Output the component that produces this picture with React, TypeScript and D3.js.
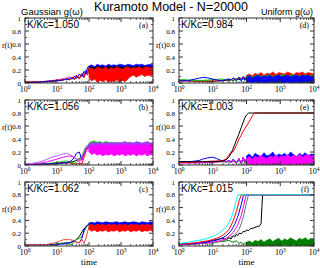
import React from 'react';
import * as d3 from 'd3';

const W = 320;
const H = 268;

// time grids
const tEarly = [1, 1.5, 2, 3, 4, 5, 7, 10, 13, 16, 20, 25, 30, 35, 40, 50, 60, 70, 80, 90, 100];
const tBand = [100, 120, 150, 180, 220, 270, 330, 400, 500, 600, 750, 900, 1100, 1350, 1650, 2000, 2500, 3000, 3700, 4500, 5500, 6700, 8200, 10000];
const tRise = [1, 2, 5, 10, 15, 20, 25, 30, 35, 40, 50, 60, 70, 80, 90, 100, 115, 130, 150, 170, 200, 10000];
const tF = [1, 1.5, 2, 3, 4, 5, 7, 10, 13, 16, 20, 25, 30, 35, 40, 45, 50, 55, 60, 70, 80, 90, 100, 115, 130, 160, 200, 240, 270, 285, 300, 10000];

const yTicks = [0, 0.2, 0.4, 0.6, 0.8, 1];
const yTickLabels = ['0', '0.2', '0.4', '0.6', '0.8', '1'];
const xDecades = [1, 10, 100, 1000, 10000];
const xExponents = ['0', '1', '2', '3', '4'];

// (a) Gaussian, K/Kc = 1.050
const aBlack = [0.01, 0.01, 0.012, 0.015, 0.02, 0.02, 0.03, 0.035, 0.04, 0.05, 0.06, 0.05, 0.08, 0.06, 0.1, 0.08, 0.13, 0.1, 0.18, 0.16, 0.22];
const aRed = [0.02, 0.02, 0.02, 0.02, 0.025, 0.03, 0.03, 0.04, 0.05, 0.04, 0.07, 0.05, 0.09, 0.05, 0.12, 0.06, 0.15, 0.08, 0.2, 0.12, 0.22];
const aBlue = [0.01, 0.01, 0.01, 0.015, 0.02, 0.025, 0.03, 0.04, 0.035, 0.06, 0.05, 0.08, 0.06, 0.1, 0.07, 0.14, 0.1, 0.18, 0.14, 0.24, 0.26];
const aPink = [0.01, 0.01, 0.012, 0.015, 0.02, 0.03, 0.04, 0.05, 0.06, 0.07, 0.08, 0.1, 0.07, 0.11, 0.08, 0.12, 0.09, 0.15, 0.12, 0.2, 0.24];
const aBlueHi = [0.26, 0.28, 0.25, 0.29, 0.27, 0.28, 0.26, 0.29, 0.27, 0.28, 0.27, 0.29, 0.28, 0.27, 0.29, 0.28, 0.27, 0.29, 0.28, 0.29, 0.27, 0.28, 0.29, 0.28];
const aBlueLo = [0.2, 0.18, 0.21, 0.19, 0.22, 0.2, 0.21, 0.2, 0.22, 0.21, 0.2, 0.22, 0.21, 0.22, 0.2, 0.22, 0.21, 0.22, 0.2, 0.21, 0.22, 0.21, 0.2, 0.22];
const aBlackHi = [0.24, 0.25, 0.23, 0.26, 0.24, 0.25, 0.24, 0.26, 0.25, 0.24, 0.26, 0.25, 0.24, 0.25, 0.26, 0.24, 0.25, 0.26, 0.24, 0.25, 0.26, 0.25, 0.24, 0.25];
const aBlackLo = [0.15, 0.17, 0.14, 0.16, 0.18, 0.15, 0.17, 0.16, 0.18, 0.17, 0.16, 0.18, 0.17, 0.16, 0.18, 0.17, 0.18, 0.16, 0.17, 0.18, 0.17, 0.16, 0.18, 0.17];
const aRedHi = [0.22, 0.24, 0.2, 0.25, 0.23, 0.22, 0.25, 0.21, 0.24, 0.22, 0.25, 0.23, 0.21, 0.24, 0.25, 0.22, 0.24, 0.23, 0.25, 0.22, 0.24, 0.25, 0.23, 0.24];
const aRedLo = [0.08, 0.03, 0.06, 0.01, 0.04, 0.02, 0.05, 0.01, 0.03, 0.02, 0.05, 0.01, 0.04, 0.02, 0.06, 0.1, 0.12, 0.09, 0.11, 0.13, 0.1, 0.12, 0.11, 0.12];

// (b) Gaussian, K/Kc = 1.056
const bViolet = [0.01, 0.02, 0.03, 0.05, 0.07, 0.09, 0.12, 0.14, 0.16, 0.17, 0.18, 0.16, 0.14, 0.12, 0.1, 0.06, 0.12, 0.2, 0.26, 0.3, 0.32];
const bMagenta = [0.01, 0.015, 0.02, 0.03, 0.04, 0.05, 0.07, 0.09, 0.11, 0.12, 0.13, 0.14, 0.13, 0.11, 0.09, 0.05, 0.08, 0.15, 0.22, 0.28, 0.3];
const bGreen = [0.01, 0.01, 0.01, 0.015, 0.02, 0.02, 0.03, 0.04, 0.05, 0.06, 0.06, 0.05, 0.04, 0.03, 0.04, 0.08, 0.14, 0.22, 0.28, 0.3, 0.32];
const bRed = [0.01, 0.01, 0.01, 0.01, 0.015, 0.02, 0.02, 0.03, 0.035, 0.04, 0.04, 0.03, 0.02, 0.02, 0.01, 0.03, 0.01, 0.12, 0.2, 0.26, 0.28];
const bBlue = [0.01, 0.01, 0.01, 0.01, 0.015, 0.02, 0.02, 0.025, 0.03, 0.035, 0.04, 0.05, 0.08, 0.12, 0.18, 0.2, 0.08, 0.18, 0.25, 0.28, 0.3];
const bBlack = [0.01, 0.01, 0.01, 0.01, 0.01, 0.015, 0.02, 0.02, 0.025, 0.03, 0.03, 0.04, 0.05, 0.06, 0.07, 0.1, 0.12, 0.18, 0.22, 0.26, 0.28];
const bGreenHi = [0.34, 0.36, 0.37, 0.35, 0.36, 0.34, 0.36, 0.35, 0.34, 0.35, 0.33, 0.35, 0.34, 0.33, 0.35, 0.34, 0.33, 0.35, 0.34, 0.33, 0.34, 0.35, 0.33, 0.34];
const bGreenLo = [0.26, 0.28, 0.27, 0.29, 0.28, 0.27, 0.29, 0.28, 0.27, 0.28, 0.27, 0.28, 0.27, 0.28, 0.27, 0.28, 0.27, 0.28, 0.27, 0.28, 0.27, 0.28, 0.27, 0.28];
const bBlueHi = [0.31, 0.3, 0.32, 0.3, 0.31, 0.29, 0.31, 0.3, 0.32, 0.3, 0.31, 0.3, 0.31, 0.32, 0.3, 0.31, 0.3, 0.32, 0.3, 0.31, 0.3, 0.31, 0.32, 0.3];
const bBlueLo = [0.2, 0.22, 0.21, 0.23, 0.22, 0.21, 0.23, 0.22, 0.21, 0.22, 0.23, 0.22, 0.21, 0.22, 0.23, 0.22, 0.21, 0.22, 0.23, 0.21, 0.22, 0.23, 0.22, 0.21];
const bVioletHi = [0.33, 0.34, 0.35, 0.34, 0.35, 0.33, 0.35, 0.34, 0.35, 0.34, 0.35, 0.34, 0.35, 0.36, 0.34, 0.35, 0.34, 0.36, 0.35, 0.34, 0.35, 0.36, 0.34, 0.35];
const bVioletLo = [0.24, 0.25, 0.24, 0.26, 0.25, 0.24, 0.26, 0.25, 0.24, 0.25, 0.26, 0.24, 0.25, 0.26, 0.24, 0.25, 0.26, 0.25, 0.24, 0.26, 0.25, 0.24, 0.26, 0.25];
const bMagentaHi = [0.3, 0.31, 0.29, 0.32, 0.3, 0.31, 0.32, 0.3, 0.31, 0.3, 0.32, 0.31, 0.3, 0.32, 0.31, 0.3, 0.32, 0.31, 0.3, 0.32, 0.31, 0.3, 0.32, 0.31];
const bMagentaLo = [0.2, 0.16, 0.18, 0.15, 0.17, 0.14, 0.16, 0.15, 0.17, 0.14, 0.16, 0.15, 0.17, 0.14, 0.16, 0.15, 0.17, 0.14, 0.16, 0.15, 0.17, 0.14, 0.16, 0.15];

// (c) Gaussian, K/Kc = 1.062
const cBlack = [0.02, 0.02, 0.02, 0.02, 0.02, 0.02, 0.02, 0.03, 0.04, 0.04, 0.05, 0.05, 0.06, 0.08, 0.1, 0.15, 0.22, 0.27, 0.3, 0.32, 0.33];
const cRed = [0.02, 0.02, 0.02, 0.02, 0.02, 0.025, 0.04, 0.06, 0.08, 0.1, 0.1, 0.1, 0.09, 0.08, 0.06, 0.05, 0.1, 0.04, 0.12, 0.22, 0.3];
const cGreen = [0.02, 0.02, 0.02, 0.02, 0.02, 0.02, 0.02, 0.03, 0.04, 0.05, 0.04, 0.02, 0.03, 0.06, 0.1, 0.12, 0.15, 0.22, 0.28, 0.32, 0.34];
const cBlue = [0.02, 0.02, 0.02, 0.02, 0.02, 0.02, 0.02, 0.02, 0.03, 0.03, 0.04, 0.05, 0.07, 0.08, 0.06, 0.05, 0.12, 0.25, 0.3, 0.33, 0.35];
const cBlackHi = [0.35, 0.36, 0.35, 0.36, 0.35, 0.36, 0.35, 0.36, 0.35, 0.36, 0.35, 0.36, 0.35, 0.36, 0.35, 0.36, 0.35, 0.36, 0.35, 0.36, 0.35, 0.36, 0.35, 0.36];
const cBlackLo = [0.33, 0.34, 0.33, 0.34, 0.33, 0.34, 0.33, 0.34, 0.33, 0.34, 0.33, 0.34, 0.33, 0.34, 0.33, 0.34, 0.33, 0.34, 0.33, 0.34, 0.33, 0.34, 0.33, 0.34];
const cGreenHi = [0.35, 0.36, 0.35, 0.37, 0.35, 0.36, 0.35, 0.36, 0.37, 0.35, 0.36, 0.35, 0.36, 0.35, 0.37, 0.36, 0.35, 0.36, 0.35, 0.36, 0.37, 0.35, 0.36, 0.35];
const cGreenLo = [0.32, 0.33, 0.32, 0.33, 0.32, 0.33, 0.32, 0.33, 0.32, 0.33, 0.32, 0.33, 0.32, 0.33, 0.32, 0.33, 0.32, 0.33, 0.32, 0.33, 0.32, 0.33, 0.32, 0.33];
const cBlueHi = [0.36, 0.37, 0.36, 0.38, 0.37, 0.36, 0.38, 0.37, 0.36, 0.37, 0.38, 0.36, 0.37, 0.38, 0.36, 0.37, 0.38, 0.37, 0.36, 0.38, 0.37, 0.36, 0.38, 0.37];
const cBlueLo = [0.33, 0.34, 0.33, 0.34, 0.33, 0.34, 0.33, 0.34, 0.33, 0.34, 0.33, 0.34, 0.33, 0.34, 0.33, 0.34, 0.33, 0.34, 0.33, 0.34, 0.33, 0.34, 0.33, 0.34];
const cRedHi = [0.33, 0.34, 0.32, 0.34, 0.33, 0.34, 0.32, 0.34, 0.33, 0.34, 0.32, 0.34, 0.33, 0.34, 0.32, 0.34, 0.33, 0.34, 0.32, 0.34, 0.33, 0.34, 0.32, 0.34];
const cRedLo = [0.26, 0.23, 0.25, 0.22, 0.24, 0.23, 0.25, 0.22, 0.24, 0.23, 0.25, 0.22, 0.24, 0.23, 0.25, 0.22, 0.24, 0.23, 0.25, 0.22, 0.24, 0.23, 0.25, 0.22];

// (d) Uniform, K/Kc = 0.984
const dBlack = [0.04, 0.04, 0.035, 0.03, 0.03, 0.03, 0.03, 0.025, 0.03, 0.03, 0.035, 0.04, 0.03, 0.05, 0.04, 0.06, 0.05, 0.07, 0.06, 0.08, 0.07];
const dRed = [0.03, 0.03, 0.03, 0.03, 0.025, 0.03, 0.03, 0.03, 0.035, 0.04, 0.04, 0.05, 0.06, 0.05, 0.07, 0.06, 0.08, 0.07, 0.09, 0.08, 0.1];
const dGreen = [0.05, 0.05, 0.045, 0.04, 0.04, 0.04, 0.045, 0.05, 0.055, 0.06, 0.06, 0.05, 0.06, 0.04, 0.07, 0.03, 0.08, 0.04, 0.07, 0.05, 0.08];
const dBlue = [0.03, 0.035, 0.04, 0.06, 0.075, 0.085, 0.08, 0.06, 0.05, 0.04, 0.04, 0.05, 0.06, 0.05, 0.08, 0.04, 0.09, 0.03, 0.1, 0.04, 0.08];
const dRedHi = [0.12, 0.14, 0.11, 0.15, 0.13, 0.16, 0.12, 0.15, 0.14, 0.17, 0.13, 0.16, 0.15, 0.14, 0.17, 0.15, 0.13, 0.16, 0.15, 0.17, 0.14, 0.16, 0.15, 0.14];
const dRedLo = [0.05, 0.06, 0.05, 0.07, 0.06, 0.05, 0.07, 0.06, 0.05, 0.07, 0.06, 0.08, 0.06, 0.07, 0.05, 0.07, 0.06, 0.08, 0.07, 0.06, 0.08, 0.07, 0.06, 0.07];
const dGreenHi = [0.1, 0.12, 0.09, 0.11, 0.13, 0.1, 0.12, 0.11, 0.13, 0.1, 0.12, 0.11, 0.13, 0.12, 0.1, 0.12, 0.13, 0.11, 0.12, 0.1, 0.13, 0.11, 0.12, 0.11];
const dGreenLo = [0.02, 0.03, 0.02, 0.04, 0.03, 0.02, 0.03, 0.04, 0.02, 0.03, 0.04, 0.02, 0.03, 0.04, 0.03, 0.02, 0.04, 0.03, 0.02, 0.04, 0.03, 0.02, 0.04, 0.03];
const dBlueHi = [0.09, 0.11, 0.08, 0.1, 0.12, 0.09, 0.11, 0.1, 0.12, 0.09, 0.11, 0.12, 0.1, 0.11, 0.12, 0.1, 0.11, 0.12, 0.1, 0.12, 0.11, 0.12, 0.1, 0.11];
const dBlueLo = [0, 0.01, 0, 0.01, 0, 0.01, 0, 0, 0.01, 0, 0, 0.01, 0, 0, 0.01, 0, 0, 0.01, 0, 0, 0.01, 0, 0, 0];

// (e) Uniform, K/Kc = 1.003
const eBlack = [0.05, 0.05, 0.05, 0.05, 0.06, 0.06, 0.08, 0.12, 0.18, 0.25, 0.38, 0.48, 0.58, 0.66, 0.73, 0.77, 0.8, 0.8, 0.8, 0.8, 0.8, 0.8];
const eRed = [0.04, 0.04, 0.05, 0.06, 0.06, 0.07, 0.09, 0.15, 0.2, 0.2, 0.3, 0.4, 0.46, 0.52, 0.56, 0.6, 0.65, 0.7, 0.76, 0.8, 0.8, 0.8];
const eGreen = [0.05, 0.05, 0.05, 0.05, 0.05, 0.05, 0.05, 0.05, 0.05, 0.05, 0.05, 0.045, 0.05, 0.04, 0.06, 0.03, 0.07, 0.02, 0.08, 0.03, 0.06];
const eBlue = [0.05, 0.05, 0.05, 0.06, 0.07, 0.09, 0.11, 0.12, 0.1, 0.08, 0.06, 0.05, 0.07, 0.05, 0.09, 0.04, 0.1, 0.03, 0.12, 0.05, 0.1];
const eMagenta = [0.03, 0.03, 0.03, 0.03, 0.03, 0.035, 0.04, 0.04, 0.04, 0.05, 0.06, 0.05, 0.06, 0.04, 0.08, 0.03, 0.1, 0.02, 0.12, 0.04, 0.1];
const eBlueHi = [0.14, 0.17, 0.12, 0.18, 0.15, 0.13, 0.19, 0.14, 0.16, 0.2, 0.13, 0.17, 0.15, 0.18, 0.14, 0.2, 0.16, 0.13, 0.18, 0.15, 0.19, 0.14, 0.17, 0.16];
const eBlueLo = [0.02, 0.03, 0.01, 0.04, 0.02, 0.03, 0.01, 0.02, 0.04, 0.02, 0.03, 0.01, 0.02, 0.03, 0.02, 0.01, 0.03, 0.02, 0.04, 0.02, 0.01, 0.03, 0.02, 0.03];
const eGreenHi = [0.08, 0.1, 0.07, 0.09, 0.11, 0.08, 0.1, 0.09, 0.11, 0.08, 0.1, 0.09, 0.11, 0.1, 0.08, 0.1, 0.11, 0.09, 0.1, 0.08, 0.11, 0.09, 0.1, 0.09];
const eGreenLo = [0, 0.01, 0, 0, 0.01, 0, 0, 0.01, 0, 0, 0.01, 0, 0, 0.01, 0, 0, 0.01, 0, 0, 0.01, 0, 0, 0.01, 0];
const eMagentaHi = [0.1, 0.13, 0.09, 0.14, 0.11, 0.15, 0.12, 0.1, 0.14, 0.12, 0.16, 0.11, 0.14, 0.13, 0.16, 0.12, 0.15, 0.13, 0.17, 0.12, 0.15, 0.16, 0.13, 0.15];
const eMagentaLo = [0.01, 0, 0.02, 0, 0.01, 0, 0.02, 0, 0.01, 0, 0.02, 0, 0.01, 0, 0.02, 0, 0.01, 0, 0.02, 0, 0.01, 0, 0.02, 0];

// (f) Uniform, K/Kc = 1.015
const fCyan = [0.04, 0.05, 0.06, 0.08, 0.09, 0.1, 0.12, 0.15, 0.18, 0.21, 0.25, 0.3, 0.36, 0.44, 0.52, 0.62, 0.72, 0.8, 0.8, 0.8, 0.8, 0.8, 0.8, 0.8, 0.8, 0.8, 0.8, 0.8, 0.8, 0.8, 0.8, 0.8];
const fRed = [0.03, 0.035, 0.04, 0.05, 0.06, 0.07, 0.08, 0.1, 0.12, 0.14, 0.17, 0.21, 0.26, 0.32, 0.39, 0.46, 0.54, 0.62, 0.7, 0.8, 0.8, 0.8, 0.8, 0.8, 0.8, 0.8, 0.8, 0.8, 0.8, 0.8, 0.8, 0.8];
const fBlue = [0.03, 0.03, 0.035, 0.04, 0.05, 0.055, 0.065, 0.08, 0.09, 0.11, 0.13, 0.16, 0.2, 0.24, 0.29, 0.34, 0.4, 0.46, 0.52, 0.65, 0.78, 0.8, 0.8, 0.8, 0.8, 0.8, 0.8, 0.8, 0.8, 0.8, 0.8, 0.8];
const fMagenta = [0.03, 0.03, 0.03, 0.035, 0.04, 0.045, 0.05, 0.06, 0.07, 0.08, 0.1, 0.12, 0.15, 0.18, 0.21, 0.25, 0.29, 0.33, 0.38, 0.48, 0.6, 0.72, 0.8, 0.8, 0.8, 0.8, 0.8, 0.8, 0.8, 0.8, 0.8, 0.8];
const fGray = [0.03, 0.03, 0.03, 0.03, 0.035, 0.04, 0.045, 0.05, 0.06, 0.07, 0.08, 0.1, 0.12, 0.14, 0.16, 0.18, 0.2, 0.23, 0.26, 0.35, 0.45, 0.57, 0.68, 0.8, 0.8, 0.8, 0.8, 0.8, 0.8, 0.8, 0.8, 0.8];
const fBlack = [0.03, 0.03, 0.03, 0.035, 0.04, 0.05, 0.07, 0.09, 0.1, 0.11, 0.12, 0.1, 0.13, 0.11, 0.16, 0.14, 0.18, 0.16, 0.2, 0.19, 0.23, 0.22, 0.25, 0.24, 0.27, 0.28, 0.3, 0.31, 0.35, 0.6, 0.8, 0.8];
const fGreen = [0.03, 0.03, 0.035, 0.04, 0.04, 0.045, 0.05, 0.05, 0.06, 0.07, 0.07, 0.08, 0.09, 0.07, 0.06, 0.08, 0.04, 0.06, 0.03, 0.05, 0.04];
const fGreenHi = [0.06, 0.08, 0.05, 0.09, 0.07, 0.1, 0.06, 0.09, 0.11, 0.07, 0.1, 0.12, 0.08, 0.11, 0.09, 0.13, 0.1, 0.08, 0.12, 0.1, 0.13, 0.09, 0.12, 0.11];
const fGreenLo = [0, 0.01, 0, 0, 0.01, 0, 0, 0.01, 0, 0, 0.01, 0, 0, 0.01, 0, 0, 0.01, 0, 0, 0.01, 0, 0, 0.01, 0];

type Layer =
  | { kind: 'line'; t: number[]; r: number[]; color: string }
  | { kind: 'band'; t: number[]; lo: number[]; hi: number[]; color: string };

const line = (t: number[], r: number[], color: string): Layer => ({ kind: 'line', t, r, color });
const band = (t: number[], lo: number[], hi: number[], color: string): Layer => ({ kind: 'band', t, lo, hi, color });

const cols = [
  { left: 25, right: 153, rLabel: 7 },
  { left: 179, right: 314, rLabel: 161 },
];
const rows = [
  { top: 18, bottom: 83 },
  { top: 100, bottom: 165 },
  { top: 182, bottom: 246 },
];

const panels = [
  {
    id: 'a', col: 0, row: 0, label: 'K/Kc=1.050',
    layers: [
      line(tEarly, aPink, '#ff66cc'), line(tEarly, aBlack, '#000'), line(tEarly, aRed, '#ff0000'), line(tEarly, aBlue, '#0000ff'),
      band(tBand, aBlueLo, aBlueHi, '#0000ff'), band(tBand, aBlackLo, aBlackHi, '#000'), band(tBand, aRedLo, aRedHi, '#ff0000'),
    ],
  },
  {
    id: 'b', col: 0, row: 1, label: 'K/Kc=1.056',
    layers: [
      line(tEarly, bBlack, '#000'), line(tEarly, bRed, '#ff0000'), line(tEarly, bGreen, '#00cc00'), line(tEarly, bBlue, '#0000ff'),
      line(tEarly, bMagenta, '#ff00ff'), line(tEarly, bViolet, '#b060ff'),
      band(tBand, bGreenLo, bGreenHi, '#00cc00'), band(tBand, bBlueLo, bBlueHi, '#0000ff'),
      band(tBand, bVioletLo, bVioletHi, '#a040f0'), band(tBand, bMagentaLo, bMagentaHi, '#ff00ff'),
    ],
  },
  {
    id: 'c', col: 0, row: 2, label: 'K/Kc=1.062',
    layers: [
      line(tEarly, cBlack, '#000'), line(tEarly, cGreen, '#00b000'), line(tEarly, cBlue, '#0000ff'), line(tEarly, cRed, '#ff4040'),
      band(tBand, cBlackLo, cBlackHi, '#000'), band(tBand, cGreenLo, cGreenHi, '#00b000'),
      band(tBand, cBlueLo, cBlueHi, '#0000ff'), band(tBand, cRedLo, cRedHi, '#ff0000'),
    ],
  },
  {
    id: 'd', col: 1, row: 0, label: 'K/Kc=0.984',
    layers: [
      line(tEarly, dBlack, '#000'), line(tEarly, dRed, '#ff0000'), line(tEarly, dGreen, '#00cc00'), line(tEarly, dBlue, '#0000ff'),
      band(tBand, dRedLo, dRedHi, '#ff0000'), band(tBand, dGreenLo, dGreenHi, '#00cc00'), band(tBand, dBlueLo, dBlueHi, '#0000ff'),
    ],
  },
  {
    id: 'e', col: 1, row: 1, label: 'K/Kc=1.003',
    layers: [
      line(tEarly, eGreen, '#008000'), line(tEarly, eBlue, '#0000ff'), line(tEarly, eMagenta, '#ff00ff'),
      band(tBand, eBlueLo, eBlueHi, '#0000ff'), band(tBand, eGreenLo, eGreenHi, '#008000'), band(tBand, eMagentaLo, eMagentaHi, '#ff00ff'),
      line(tRise, eRed, '#ff0000'), line(tRise, eBlack, '#000'),
    ],
  },
  {
    id: 'f', col: 1, row: 2, label: 'K/Kc=1.015',
    layers: [
      line(tEarly, fGreen, '#008000'), band(tBand, fGreenLo, fGreenHi, '#008000'),
      line(tF, fBlack, '#000'), line(tF, fGray, '#707070'), line(tF, fMagenta, '#ff00ff'),
      line(tF, fBlue, '#0000ff'), line(tF, fRed, '#ff0000'), line(tF, fCyan, '#00ffff'),
    ],
  },
];

const serif = 'Liberation Serif, serif';
const sans = 'Liberation Sans, Arial, sans-serif';

function Panel({ p }: { p: (typeof panels)[number] }) {
  const c = cols[p.col];
  const r = rows[p.row];
  const x = d3.scaleLog().domain([1, 1e4]).range([c.left, c.right]);
  const y = d3.scaleLinear().domain([0, 1]).range([r.bottom, r.top]);
  const minor = x.ticks().filter((v) => !xDecades.includes(v));
  const yMinor = d3.range(0.1, 1, 0.2);
  const clipId = `clip-${p.id}`;
  const ln = d3.line<[number, number]>().x((d) => x(d[0])).y((d) => y(d[1]));
  const ar = d3
    .area<[number, number, number]>()
    .x((d) => x(d[0]))
    .y0((d) => y(d[1]))
    .y1((d) => y(d[2]));
  const frame = '#333';
  return (
    <g>
      <defs>
        <clipPath id={clipId}>
          <rect x={c.left} y={r.top} width={c.right - c.left} height={r.bottom - r.top} />
        </clipPath>
      </defs>
      <g clipPath={`url(#${clipId})`}>
        {p.layers.map((l, i) =>
          l.kind === 'line' ? (
            <path key={i} d={ln(l.t.map((t, j) => [t, l.r[j]]))!} fill="none" stroke={l.color} strokeWidth={1} />
          ) : (
            <path
              key={i}
              d={ar(l.t.map((t, j) => [t, l.lo[j], l.hi[j]]))!}
              fill={l.color}
              stroke={l.color}
              strokeWidth={0.6}
            />
          )
        )}
      </g>
      <rect x={c.left} y={r.top} width={c.right - c.left} height={r.bottom - r.top} fill="none" stroke={frame} strokeWidth={1} />
      {/* x ticks, bottom and top, inward */}
      {xDecades.map((v) => (
        <g key={`xM${v}`} stroke={frame} strokeWidth={1}>
          <line x1={x(v)} x2={x(v)} y1={r.bottom} y2={r.bottom - 4} />
          <line x1={x(v)} x2={x(v)} y1={r.top} y2={r.top + 4} />
        </g>
      ))}
      {minor.map((v) => (
        <g key={`xm${v}`} stroke={frame} strokeWidth={0.8}>
          <line x1={x(v)} x2={x(v)} y1={r.bottom} y2={r.bottom - 2} />
          <line x1={x(v)} x2={x(v)} y1={r.top} y2={r.top + 2} />
        </g>
      ))}
      {yTicks.map((v) => (
        <g key={`yM${v}`} stroke={frame} strokeWidth={1}>
          <line x1={c.left} x2={c.left + 4} y1={y(v)} y2={y(v)} />
          <line x1={c.right} x2={c.right - 4} y1={y(v)} y2={y(v)} />
        </g>
      ))}
      {yMinor.map((v) => (
        <g key={`ym${v}`} stroke={frame} strokeWidth={0.8}>
          <line x1={c.left} x2={c.left + 2} y1={y(v)} y2={y(v)} />
          <line x1={c.right} x2={c.right - 2} y1={y(v)} y2={y(v)} />
        </g>
      ))}
      {yTicks.map((v, i) => (
        <text key={`yl${v}`} x={c.left - 4} y={y(v) + 2.5} textAnchor="end" fontFamily={serif} fontSize={7}>
          {yTickLabels[i]}
        </text>
      ))}
      {xDecades.map((v, i) => (
        <text key={`xl${v}`} x={x(v)} y={r.bottom + 9} textAnchor="middle" fontFamily={serif} fontSize={8}>
          10
          <tspan fontSize={5.5} dy={-3.5}>
            {xExponents[i]}
          </tspan>
        </text>
      ))}
      <text x={c.rLabel} y={r.top + (r.bottom - r.top) * 0.42 + 3} textAnchor="middle" fontFamily={serif} fontSize={8}>
        r(t)
      </text>
      <text x={c.left + 2} y={r.top + 9.5} fontFamily={sans} fontSize={10}>
        {p.label}
      </text>
      <text x={c.right - 5} y={r.top + 9.5} textAnchor="end" fontFamily={serif} fontSize={8}>
        ({p.id})
      </text>
      {p.row === 2 && (
        <text x={(c.left + c.right) / 2} y={r.bottom + 19} textAnchor="middle" fontFamily={serif} fontSize={9}>
          time
        </text>
      )}
    </g>
  );
}

export default function App() {
  return (
    <svg
      width={W}
      height={H}
      viewBox={`0 0 ${W} ${H}`}
      style={{ position: 'absolute', left: 0, top: 0, background: '#fff' }}
    >
      <rect width={W} height={H} fill="#fff" />
      <text x={171} y={11} textAnchor="middle" fontFamily={sans} fontSize={12.5}>
        Kuramoto Model - N=20000
      </text>
      <text x={21} y={14.5} fontFamily={sans} fontSize={9.5}>
        Gaussian g(ω)
      </text>
      <text x={313} y={14.5} textAnchor="end" fontFamily={sans} fontSize={9}>
        Uniform g(ω)
      </text>
      {panels.map((p) => (
        <Panel key={p.id} p={p} />
      ))}
    </svg>
  );
}
